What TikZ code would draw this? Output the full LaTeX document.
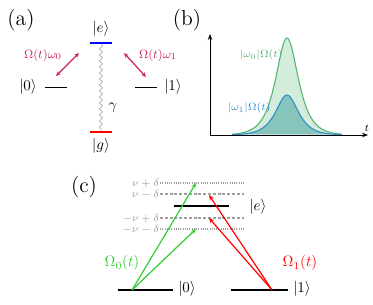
\documentclass[tikz,border=0pt]{standalone}
\usepackage{amsmath}
\usepackage{tikz}
\usetikzlibrary{arrows.meta,positioning,decorations.pathmorphing}

\definecolor{pump}{RGB}{210,30,100}
\definecolor{curvegreen}{RGB}{80,180,110}
\definecolor{curveblue}{RGB}{45,140,200}
\definecolor{drivegreen}{RGB}{50,205,50}

\begin{document}
\begin{tikzpicture}[
    x=0.6667pt, y=-0.6667pt,
    panel/.style={font=\Large},
    ket/.style={font=\normalsize, inner sep=1pt},
    level/.style={line width=1pt},
    pumparrow/.style={{Stealth[length=3.2pt,width=2.8pt]}-{Stealth[length=3.2pt,width=2.8pt]}, pump, line width=0.8pt},
    drive/.style={-{Stealth[length=3.6pt,width=3pt]}, line width=0.8pt},
    sideband/.style={gray!75, line width=0.7pt},
    sblabel/.style={gray!80, font=\scriptsize, anchor=east, inner sep=0.3pt},
    decay/.style={gray!70, decorate, decoration={snake, amplitude=1.1pt, segment length=4pt}},
    axis/.style={-{Stealth[length=4pt,width=3pt]}, line width=0.6pt},
    pulse/.style={font=\scriptsize, inner sep=1pt}
]
\useasboundingbox (0,0) rectangle (373,304);

% (a) level scheme
\node[panel] (a) at (21,20) {(a)};
\coordinate (eL) at (90,43);
\coordinate (eR) at (112,43);
\coordinate (eM) at (101,44);
\coordinate (gL) at (90,132);
\coordinate (gR) at (112,132);
\coordinate (gM) at (101,131);
\draw[level, blue] (eL) -- (eR);
\draw[level, red] (gL) -- (gR);
\draw[decay] (eM) -- (gM);
\node[ket] (ea) at (101,29) {$|e\rangle$};
\node[ket] (ga) at (101,146) {$|g\rangle$};
\node (gamma) at (113,108) {$\gamma$};

\coordinate (zL) at (45,87.5);
\coordinate (zR) at (67,87.5);
\coordinate (oL) at (135,87.5);
\coordinate (oR) at (157,87.5);
\draw[level] (zL) -- (zR);
\draw[level] (oL) -- (oR);
\node[ket] (za) at (28,87) {$|0\rangle$};
\node[ket] (oa) at (173,87) {$|1\rangle$};

\coordinate (p0a) at (56,76);
\coordinate (p0b) at (79,53);
\coordinate (p1a) at (124,53);
\coordinate (p1b) at (146,77);
\draw[pumparrow] (p0a) -- (p0b);
\draw[pumparrow] (p1a) -- (p1b);
\node[pump, font=\footnotesize] (w0) at (43,55) {$\Omega(t)\omega_0$};
\node[pump, font=\footnotesize] (w1) at (158,55) {$\Omega(t)\omega_1$};

% (b) pulses
\node[panel] (b) at (187,20) {(b)};
\coordinate (origin) at (210,135);
\coordinate (ytip) at (210,34);
\coordinate (xtip) at (368,135);
\fill[curvegreen!25] plot[domain=-55:55, samples=140] ({287+\x},{135-97/cosh(\x/10)}) -- cycle;
\fill[curveblue!55!curvegreen, opacity=0.5] plot[domain=-55:55, samples=140] ({287+\x},{135-40/cosh(\x/10)}) -- cycle;
\draw[curvegreen, line width=0.7pt] plot[domain=-55:55, samples=140] ({287+\x},{135-97/cosh(\x/10)});
\draw[curveblue, line width=0.7pt] plot[domain=-55:55, samples=140] ({287+\x},{135-40/cosh(\x/10)});
\draw[axis] (origin) -- (ytip);
\draw[axis] (origin) -- (xtip);
\node[pulse] (t) at (367,128) {$t$};
\node[pulse, curvegreen] (lg) at (261,55) {$|\omega_0|\Omega(t)$};
\node[pulse, curveblue] (lb) at (249,108) {$|\omega_1|\Omega(t)$};

% (c) sidebands
\node[panel] (c) at (84,187) {(c)};
\draw[sideband, dash pattern=on 0.6pt off 0.9pt] (160,183) coordinate (s1L) -- (244,183) coordinate (s1R);
\draw[sideband, dash pattern=on 2pt off 1.2pt] (160,194) coordinate (s2L) -- (244,194) coordinate (s2R);
\draw[sideband, dash pattern=on 2pt off 1.2pt] (160,218) coordinate (s3L) -- (244,218) coordinate (s3R);
\draw[sideband, dash pattern=on 0.6pt off 0.9pt] (160,229) coordinate (s4L) -- (244,229) coordinate (s4R);
\node[sblabel] at (s1L) {$\nu+\delta$};
\node[sblabel] at (s2L) {$\nu-\delta$};
\node[sblabel] at (s3L) {$-\nu+\delta$};
\node[sblabel] at (s4L) {$-\nu-\delta$};

\coordinate (ecL) at (174,206);
\coordinate (ecR) at (229,206);
\draw[level] (ecL) -- (ecR);
\node[ket] (ec) at (258,207) {$|e\rangle$};

\coordinate (z0L) at (118,290);
\coordinate (z0R) at (173,290);
\coordinate (o1L) at (231,290);
\coordinate (o1R) at (288,290);
\draw[level] (z0L) -- (z0R);
\draw[level] (o1L) -- (o1R);
\node[ket] (zc) at (187,289) {$|0\rangle$};
\node[ket] (oc) at (302,289) {$|1\rangle$};

\coordinate (src0) at (132,290);
\coordinate (src1) at (272,290);
\coordinate (g0up) at (196,183);
\coordinate (g0dn) at (196,229);
\coordinate (r1up) at (209,195);
\coordinate (r1dn) at (209,218);
\draw[drive, drivegreen] (src0) -- (g0up);
\draw[drive, drivegreen] (src0) -- (g0dn);
\draw[drive, red] (src1) -- (r1up);
\draw[drive, red] (src1) -- (r1dn);
\node[drivegreen] (om0) at (122,263) {$\Omega_0(t)$};
\node[red] (om1) at (300,263) {$\Omega_1(t)$};
\end{tikzpicture}
\end{document}
